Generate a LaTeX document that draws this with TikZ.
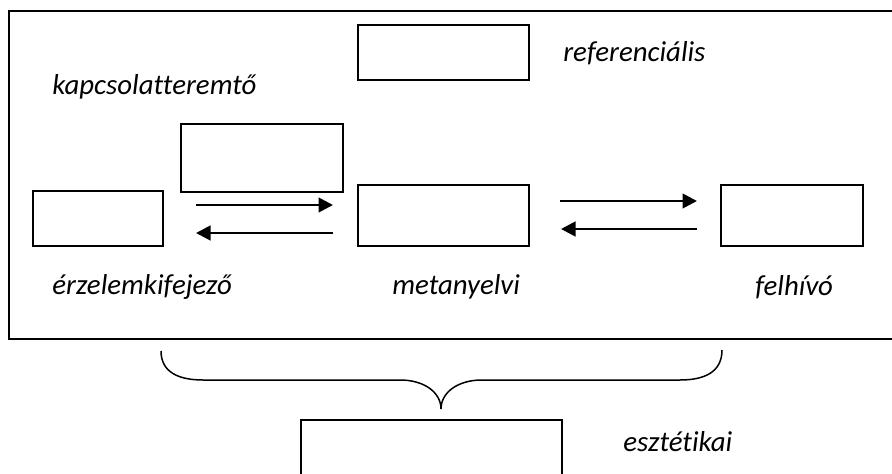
\documentclass[tikz,border=0pt]{standalone}
\usepackage{fontspec}
\setmainfont{Carlito}[Ligatures=NoCommon]
\usepackage{xcolor}
\usepackage{tikz}
\usetikzlibrary{arrows.meta,calc}

\begin{document}
\begin{tikzpicture}[
	box/.style={draw,line width=.8pt,inner sep=0pt,rectangle},
	lbl/.style={anchor=west,inner sep=0pt,font=\fontsize{16.4}{19}\selectfont\itshape},
	arr/.style={line width=1.6pt,-{Triangle[length=.29cm,width=.29cm]}},
	]
	\useasboundingbox (0,0) rectangle (17.84,9.46);
	
	\draw[line width=1.1pt] (0.18,9.24) rectangle (18.1,2.68);
	
	\node[box,minimum width=3.42cm,minimum height=1.10cm] (ref) at (8.87,8.41) {};
	\node[box,minimum width=3.24cm,minimum height=1.36cm] (kap) at (5.24,6.30) {};
	\node[box,minimum width=2.60cm,minimum height=1.10cm] (erz) at (1.96,5.09) {};
	\node[box,minimum width=3.42cm,minimum height=1.22cm] (meta) at (8.87,5.15) {};
	\node[box,minimum width=2.84cm,minimum height=1.22cm] (felh) at (15.84,5.15) {};
	\node[box,minimum width=5.22cm,minimum height=1.40cm] (eszt) at (8.63,0.36) {};
	
	\node[lbl] (kapL) at (1.04,7.72) {kapcsolatteremtő};
	\node[lbl] (refL) at (11.26,8.40) {referenciális};
	\node[lbl] (erzL) at (1.04,3.72) {érzelemkifejező};
	\node[lbl] (metaL) at (7.84,3.72) {metanyelvi};
	\node[lbl] (felhL) at (15.10,3.72) {felhívó};
	\node[lbl] (esztL) at (12.46,0.62) {esztétikai};
	
%	================================================
	\coordinate (A1) at (3.92,5.36);
	\coordinate (B1) at (6.66,5.36);
	\coordinate (A2) at (3.92,4.80);
	\coordinate (B2) at (6.66,4.80);
	\coordinate (A3) at (11.20,5.44);
	\coordinate (B3) at (13.94,5.44);
	\coordinate (A4) at (11.22,4.88);
	\coordinate (B4) at (13.94,4.88);
	
	\draw[arr] (A1) -- (B1);
	\draw[arr] (B2) -- (A2);
	\draw[arr] (A3) -- (B3);
	\draw[arr] (B4) -- (A4);
	
%	================================================
	\draw[line width=.85pt] (3.22,2.44) .. controls (3.22,2.0) and (3.6,1.86) .. (4.06,1.86)
	-- (8.0,1.86) .. controls (8.5,1.86) and (8.82,1.6) .. (8.82,1.28)
	.. controls (8.82,1.6) and (9.14,1.86) .. (9.64,1.86)
	-- (13.6,1.86) .. controls (14.06,1.86) and (14.44,2.0) .. (14.44,2.46);
	
\end{tikzpicture}
\end{document}
